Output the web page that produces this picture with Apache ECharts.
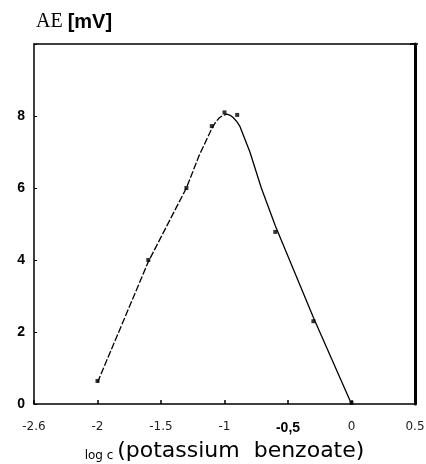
<!DOCTYPE html>
<html><head><meta charset="utf-8">
<script src="https://cdn.jsdelivr.net/npm/echarts@6/dist/echarts.min.js"></script>
<style>html,body{margin:0;padding:0;background:#fff}#c{width:426px;height:464px}</style>
</head><body><div id="c"></div>
<script>
const xPoints = [-2, -1.6, -1.3, -1.1, -1.0, -0.9, -0.6, -0.3, 0];
const yPoints = [0.64, 4.0, 6.0, 7.72, 8.1, 8.03, 4.78, 2.3, 0.03];
const curveLeftX = [-2, -1.6, -1.3, -1.2, -1.1, -1.07, -1.04, -1.01, -0.98];
const curveLeftY = [0.6, 3.95, 6.0, 6.9, 7.65, 7.83, 7.95, 8.02, 8.05];
const curveRightX = [-0.98, -0.955, -0.93, -0.9, -0.88, -0.8, -0.71, -0.6, -0.3, 0];
const curveRightY = [8.05, 8.02, 7.95, 7.83, 7.72, 7.0, 6.0, 4.95, 2.4, 0];
const xTickLabels = {'-2.5': '-2.6', '-2': '-2', '-1.5': '-1.5', '-1': '-1', '-0.5': '{b|-0,5}', '0': '0', '0.5': '0.5'};

const pts = xPoints.map((x, i) => [x, yPoints[i]]);
const cl = curveLeftX.map((x, i) => [x, curveLeftY[i]]);
const cr = curveRightX.map((x, i) => [x, curveRightY[i]]);

const chart = echarts.init(document.getElementById('c'), null, {renderer: 'canvas'});
chart.setOption({
  animation: false,
  backgroundColor: '#fff',
  grid: {left: 34, right: 11, top: 44, bottom: 60, outerBoundsMode: 'none', containLabel: false},
  graphic: [{
    type: 'text', left: 36, top: 12,
    style: {
      text: '{a|AE }{b|[mV]}',
      rich: {
        a: {fontFamily: 'Liberation Serif', fontSize: 20, fill: '#000'},
        b: {fontFamily: 'Liberation Sans', fontWeight: 'bold', fontSize: 20, fill: '#000'}
      }
    }
  }, {
    type: 'line', shape: {x1: 410, y1: 44, x2: 418, y2: 44},
    style: {stroke: '#000', lineWidth: 1.5}
  }],
  xAxis: [{
    type: 'value', min: -2.5, max: 0.5, interval: 0.5,
    axisLine: {onZero: false, lineStyle: {color: '#000', width: 1.5}},
    axisTick: {inside: true, length: 4, lineStyle: {color: '#000', width: 1.5}},
    splitLine: {show: false},
    axisLabel: {
      margin: 17, color: '#222', fontFamily: 'DejaVu Sans', fontSize: 12,
      formatter: v => xTickLabels[String(Math.round(v * 10) / 10)] || '',
      rich: {b: {fontFamily: 'Liberation Sans', fontWeight: 'bold', fontSize: 14, color: '#000'}}
    },
    name: '{s|log c }{l|(potassium  benzoate)}',
    nameLocation: 'middle', nameGap: 36,
    nameTextStyle: {
      rich: {
        s: {fontFamily: 'DejaVu Sans', fontSize: 12, color: '#000', verticalAlign: 'bottom'},
        l: {fontFamily: 'DejaVu Sans', fontSize: 22, color: '#000'}
      }
    }
  }, {
    type: 'value', position: 'top', min: -2.5, max: 0.5,
    axisLine: {show: true, onZero: false, lineStyle: {color: '#000', width: 1.5}},
    axisTick: {show: false}, axisLabel: {show: false}, splitLine: {show: false}
  }],
  yAxis: [{
    type: 'value', min: 0, max: 10, interval: 2,
    axisLine: {show: true, onZero: false, lineStyle: {color: '#000', width: 1.5}},
    axisTick: {show: true, inside: true, length: 3, lineStyle: {color: '#000', width: 1}},
    splitLine: {show: false},
    axisLabel: {
      margin: 9, color: '#000', fontFamily: 'Liberation Sans', fontWeight: 'bold', fontSize: 14,
      formatter: v => v >= 10 ? '' : String(v)
    }
  }, {
    type: 'value', position: 'right', min: 0, max: 10,
    axisLine: {show: true, onZero: false, lineStyle: {color: '#000', width: 3}},
    axisTick: {show: false}, axisLabel: {show: false}, splitLine: {show: false}
  }],
  series: [{
    type: 'line', data: cl, smooth: false, symbol: 'none',
    lineStyle: {color: '#000', width: 1.3, type: [7, 2]}
  }, {
    type: 'line', data: cr, smooth: false, symbol: 'none',
    lineStyle: {color: '#000', width: 1.3}
  }, {
    type: 'scatter', data: pts, symbol: 'rect', symbolSize: 4,
    itemStyle: {color: '#000'}
  }]
});
</script></body></html>
